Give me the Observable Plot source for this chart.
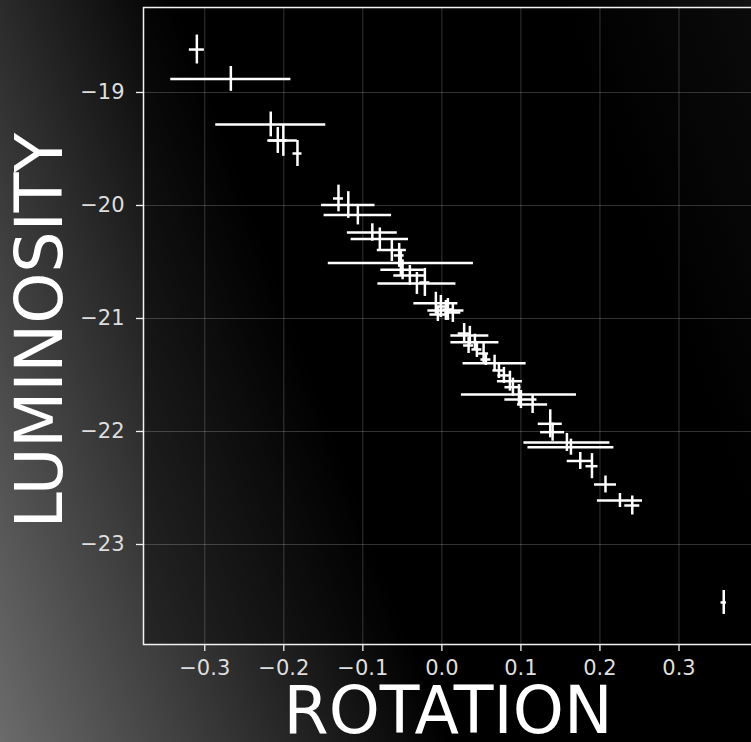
<!DOCTYPE html>
<html>
<head>
<meta charset="utf-8">
<script src="https://cdn.jsdelivr.net/npm/d3@7"></script>
<script src="https://cdn.jsdelivr.net/npm/@observablehq/plot@0.6"></script>
<style>
  html, body {
    margin: 0;
    padding: 0;
    width: 751px;
    height: 742px;
    overflow: hidden;
  }
  body {
    background: linear-gradient(70deg, #6b6b6b 0%, #000 44%, #000 80%, #121212 100%);
  }
  #chart svg { display: block; }
</style>
</head>
<body>
<div id="chart"></div>
<script>
// Rotation (x) and luminosity (y) of each object, with symmetric errors
const rotation = [
  -0.310, -0.267, -0.2165, -0.2076, -0.2006, -0.1827, -0.1308, -0.1184, -0.1063, -0.088,
  -0.0785, -0.0633, -0.054, -0.0519, -0.0497, -0.0405, -0.0316, -0.0215, -0.0076, -0.0013,
  0.0051, 0.0076, 0.0139, -0.0051, 0.0282, 0.0354, 0.0418, 0.0338, 0.0443, 0.0528,
  0.0667, 0.0557, 0.0722, 0.0785, 0.0861, 0.0899, 0.0975, 0.100, 0.1148, 0.1371,
  0.1401, 0.1582, 0.1633, 0.1751, 0.1899, 0.207, 0.2253, 0.2409, 0.3566
];
const luminosity = [
  -18.62, -18.88, -19.283, -19.425, -19.425, -19.54, -19.938, -19.996, -20.084, -20.239,
  -20.296, -20.394, -20.442, -20.509, -20.569, -20.619, -20.690, -20.681, -20.865, -20.894,
  -20.929, -20.920, -20.947, -20.965, -21.133, -21.150, -21.210, -21.239, -21.274, -21.310,
  -21.396, -21.363, -21.460, -21.504, -21.555, -21.608, -21.673, -21.717, -21.761, -21.932,
  -22.006, -22.097, -22.139, -22.261, -22.307, -22.469, -22.611, -22.655, -23.513
];
const rotationErr = [
  0.0095, 0.076, 0.0696, 0.0127, 0.0177, 0.0057, 0.0063, 0.0338, 0.0427, 0.0316,
  0.0363, 0.0184, 0.0063, 0.0918, 0.0275, 0.0203, 0.0494, 0.0063, 0.0278, 0.0063,
  0.0228, 0.0063, 0.0101, 0.0101, 0.0076, 0.024, 0.0304, 0.0063, 0.0063, 0.0063,
  0.0399, 0.0063, 0.0076, 0.0076, 0.0158, 0.0101, 0.0728, 0.0203, 0.019, 0.0152,
  0.0152, 0.0544, 0.0544, 0.0165, 0.0076, 0.0139, 0.0285, 0.0095, 0.0034
];
const luminosityErr = [
  0.128, 0.11, 0.11, 0.115, 0.14, 0.115, 0.118, 0.118, 0.088, 0.077,
  0.097, 0.102, 0.106, 0.115, 0.088, 0.088, 0.097, 0.124, 0.097, 0.097,
  0.088, 0.097, 0.088, 0.062, 0.088, 0.08, 0.071, 0.071, 0.071, 0.088,
  0.071, 0.053, 0.071, 0.071, 0.088, 0.08, 0.088, 0.08, 0.08, 0.124,
  0.08, 0.08, 0.071, 0.075, 0.111, 0.075, 0.062, 0.084, 0.106
];

const xTicks = [-0.3, -0.2, -0.1, 0.0, 0.1, 0.2, 0.3];
const yTicks = [-19, -20, -21, -22, -23];
const xLabel = "ROTATION";
const yLabel = "LUMINOSITY";

const rows = rotation.map((r, i) => ({
  r,
  l: luminosity[i],
  re: rotationErr[i],
  le: luminosityErr[i]
}));

const chart = Plot.plot({
  width: 754,
  height: 742,
  marginLeft: 143,
  marginRight: 2,
  marginTop: 7,
  marginBottom: 98,
  style: {
    background: "transparent",
    maxWidth: "none",
    color: "#dedede",
    fontFamily: "DejaVu Sans",
    overflow: "visible"
  },
  x: {domain: [-0.3775, 0.393]},
  y: {domain: [-23.885, -18.248]},
  marks: [
    Plot.frame({fill: "black", fillOpacity: 0.4}),
    Plot.gridX(xTicks, {stroke: "white", strokeOpacity: 0.2, strokeWidth: 1}),
    Plot.gridY(yTicks, {stroke: "white", strokeOpacity: 0.2, strokeWidth: 1}),
    // horizontal error bars
    Plot.ruleY(rows, {
      y: "l",
      x1: d => d.r - d.re,
      x2: d => d.r + d.re,
      stroke: "white",
      strokeWidth: 2.5
    }),
    // vertical error bars
    Plot.ruleX(rows, {
      x: "r",
      y1: d => d.l - d.le,
      y2: d => d.l + d.le,
      stroke: "white",
      strokeWidth: 2.5
    }),
    Plot.frame({stroke: "#f2f2f2", strokeWidth: 1.5}),
    Plot.axisX(xTicks, {
      tickSize: 7,
      tickPadding: 9,
      fontSize: 21,
      tickFormat: d3.format(".1f"),
      stroke: "#f2f2f2",
      strokeWidth: 1.3,
      label: null
    }),
    Plot.axisY(yTicks, {
      tickSize: 7,
      tickPadding: 12,
      fontSize: 21,
      tickFormat: d3.format("d"),
      stroke: "#f2f2f2",
      strokeWidth: 1.3,
      label: null
    }),
    Plot.text([xLabel], {
      frameAnchor: "bottom",
      dy: 67.5,
      lineAnchor: "middle",
      textAnchor: "middle",
      fontSize: 65,
      fill: "white"
    }),
    Plot.text([yLabel], {
      frameAnchor: "left",
      dx: -102,
      dy: 4.5,
      rotate: -90,
      lineAnchor: "middle",
      textAnchor: "middle",
      fontSize: 65,
      fill: "white"
    })
  ]
});

document.getElementById("chart").appendChild(chart);
</script>
</body>
</html>
